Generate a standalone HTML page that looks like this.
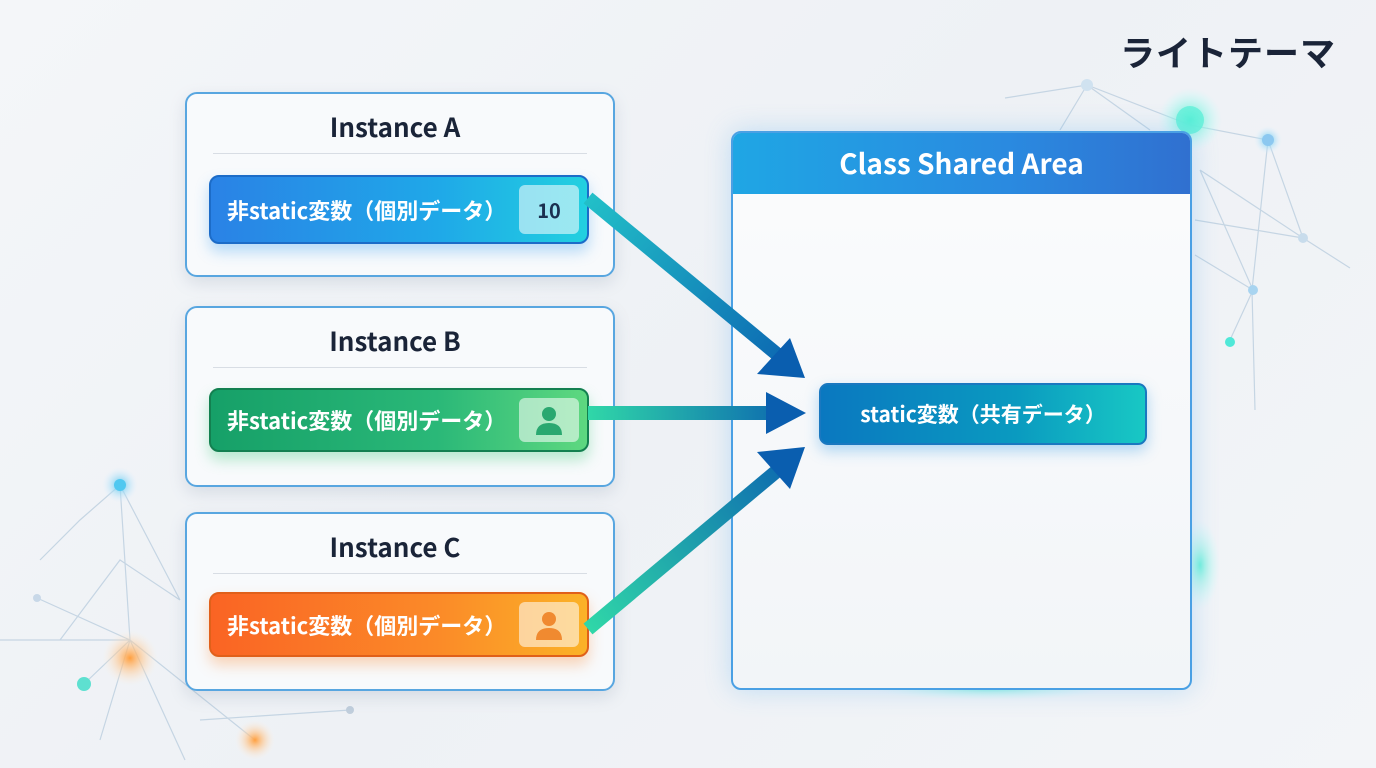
<!DOCTYPE html>
<html><head><meta charset="utf-8"><style>
*{margin:0;padding:0;box-sizing:border-box}
body{width:1376px;height:768px;overflow:hidden;position:relative;background:linear-gradient(135deg,#f4f6f9 0%,#eef1f5 50%,#f3f5f8 100%);font-family:"Liberation Sans","Noto Sans CJK JP",sans-serif}
.inst{position:absolute;left:185px;width:430px;border:2px solid #58a6e0;border-radius:12px;background:rgba(248,250,252,.95);box-shadow:0 6px 16px rgba(100,120,150,.18)}
.inst h2{position:absolute;left:-10px;right:0;text-align:center;font-size:26px;font-weight:bold;color:#1a2438;font-family:"Noto Sans CJK JP","Liberation Sans",sans-serif}
.inst .ln{position:absolute;left:26px;right:26px;height:1px;background:#d8dde4}
.pill{position:absolute;left:22px;width:380px;border-radius:10px;color:#fff;font-size:22px;font-weight:bold;padding-left:16px;font-family:"Noto Sans CJK JP",sans-serif;display:flex;align-items:center}
.badge{position:absolute;right:8px;top:8px;bottom:8px;width:60px;border-radius:6px;background:rgba(255,255,255,.55);display:flex;align-items:center;justify-content:center;color:#1a3050;font-size:20px}
</style></head><body>
<svg width="1376" height="768" style="position:absolute;left:0;top:0">
<defs>
<radialGradient id="gt"><stop offset="0" stop-color="#3ff0d0"/><stop offset=".4" stop-color="#7ff5e0" stop-opacity=".6"/><stop offset="1" stop-color="#bff" stop-opacity="0"/></radialGradient>
<radialGradient id="go"><stop offset="0" stop-color="#ffa040"/><stop offset=".4" stop-color="#ffc080" stop-opacity=".6"/><stop offset="1" stop-color="#fed" stop-opacity="0"/></radialGradient>
<radialGradient id="gb"><stop offset="0" stop-color="#40c0f0"/><stop offset=".4" stop-color="#90d8f5" stop-opacity=".6"/><stop offset="1" stop-color="#def" stop-opacity="0"/></radialGradient>
</defs>
<g stroke="#c5d5e3" stroke-width="1.2" fill="none">
<path d="M1005 98 L1087 85 L1190 125 M1087 85 L1060 130 M1087 85 L1150 130 M1190 125 L1268 140 L1303 238 L1268 140 L1252 290 L1255 410 M1200 170 L1303 238 L1350 268 M1200 170 L1253 290 L1230 340 M1195 220 L1303 238 M1195 255 L1253 290"/>
<path d="M120 485 L80 520 L40 560 M120 485 L130 640 L85 683 M120 485 L180 600 M37 598 L130 640 L255 740 M130 640 L185 760 M130 640 L100 740 M180 600 L120 560 L60 640 M0 640 L130 640 M200 720 L350 710"/>
</g>
<circle cx="1087" cy="85" r="6" fill="#d0e2f0"/><circle cx="1268" cy="140" r="14" fill="url(#gb)"/><circle cx="1268" cy="140" r="6" fill="#8cc8f0"/>
<circle cx="1303" cy="238" r="5" fill="#c8dcec"/><circle cx="1253" cy="290" r="5" fill="#a8d4f0"/><circle cx="1230" cy="342" r="5" fill="#50e8d8"/>
<circle cx="1190" cy="120" r="32" fill="url(#gt)"/><circle cx="1190" cy="120" r="14" fill="#60f0d8" opacity=".8"/>
<circle cx="120" cy="485" r="18" fill="url(#gb)"/><circle cx="120" cy="485" r="6" fill="#50c8f0"/>
<circle cx="130" cy="658" r="28" fill="url(#go)"/><circle cx="255" cy="740" r="20" fill="url(#go)"/>
<circle cx="84" cy="684" r="7" fill="#5ee0d0"/><circle cx="37" cy="598" r="4" fill="#c8d8e8"/><circle cx="350" cy="710" r="4" fill="#c0cedc"/>
<ellipse cx="1200" cy="565" rx="20" ry="45" fill="url(#gt)" opacity=".7"/>
<ellipse cx="990" cy="688" rx="120" ry="12" fill="url(#gt)" opacity=".6"/>
</svg>

<div style="position:absolute;left:1120px;top:26px;font-size:35px;font-weight:bold;color:#1a2438;font-family:'Noto Sans CJK JP',sans-serif;letter-spacing:1px">ライトテーマ</div>

<div class="inst" style="top:92px;height:185px"><h2 style="top:14px">Instance A</h2><div class="ln" style="top:59px"></div>
<div class="pill" style="top:81px;height:69px;background:linear-gradient(90deg,#2a82e6,#1fa8e8 60%,#22d0e0);border:2px solid #1c6cc8;box-shadow:0 8px 14px rgba(60,160,240,.35)">非static変数（個別データ）<div class="badge">10</div></div></div>

<div class="inst" style="top:306px;height:181px"><h2 style="top:14px">Instance B</h2><div class="ln" style="top:59px"></div>
<div class="pill" style="top:80px;height:64px;background:linear-gradient(90deg,#16a068,#2ab878 60%,#5ed880);border:2px solid #138050;box-shadow:0 8px 14px rgba(60,200,120,.35)">非static変数（個別データ）<div class="badge"><svg width="34" height="34" viewBox="0 0 34 34"><circle cx="17" cy="11" r="7" fill="#2aa870"/><path d="M4 32 Q4 20 17 20 Q30 20 30 32Z" fill="#2aa870"/></svg></div></div></div>

<div class="inst" style="top:512px;height:179px"><h2 style="top:14px">Instance C</h2><div class="ln" style="top:59px"></div>
<div class="pill" style="top:78px;height:65px;background:linear-gradient(90deg,#fa6424,#fb8a28 60%,#fbb228);border:2px solid #e0601a;box-shadow:0 8px 14px rgba(250,140,60,.35)">非static変数（個別データ）<div class="badge"><svg width="34" height="34" viewBox="0 0 34 34"><circle cx="17" cy="11" r="7" fill="#f08a30"/><path d="M4 32 Q4 20 17 20 Q30 20 30 32Z" fill="#f08a30"/></svg></div></div></div>

<div style="position:absolute;left:731px;top:131px;width:461px;height:559px;border:2px solid #4aa0e4;border-radius:10px;background:linear-gradient(180deg,#fbfcfd,#f2f5f8);box-shadow:0 0 26px rgba(80,170,240,.3);overflow:hidden">
<div style="height:61px;background:linear-gradient(90deg,#1fa6e4,#2a8ae0 60%,#3070d0);color:#fff;font-size:28px;font-weight:bold;text-align:center;line-height:60px;font-family:'Noto Sans CJK JP',sans-serif">Class Shared Area</div></div>
<div style="position:absolute;left:819px;top:383px;width:328px;height:62px;border-radius:9px;border:2px solid #1a78c0;background:linear-gradient(90deg,#0a78c0,#0a9ac0 60%,#18c8c4);box-shadow:0 6px 14px rgba(40,150,230,.35);color:#fff;font-size:21px;font-weight:bold;text-align:center;line-height:58px;font-family:'Noto Sans CJK JP',sans-serif">static変数（共有データ）</div>

<svg width="1376" height="768" style="position:absolute;left:0;top:0">
<defs>
<linearGradient id="a1" x1="587" y1="197" x2="805" y2="378" gradientUnits="userSpaceOnUse"><stop offset="0" stop-color="#22c0c8"/><stop offset="1" stop-color="#0a60b0"/></linearGradient>
<linearGradient id="a2" x1="587" y1="0" x2="805" y2="0" gradientUnits="userSpaceOnUse"><stop offset="0" stop-color="#30d8a8"/><stop offset="1" stop-color="#0a60b0"/></linearGradient>
<linearGradient id="a3" x1="587" y1="630" x2="805" y2="447" gradientUnits="userSpaceOnUse"><stop offset="0" stop-color="#30d8a8"/><stop offset="1" stop-color="#0a60b0"/></linearGradient>
</defs>
<line x1="588" y1="198" x2="778" y2="355" stroke="url(#a1)" stroke-width="14"/>
<polygon points="805,378 757,374 790,338" fill="#0a5eaf"/>
<line x1="588" y1="413" x2="772" y2="413" stroke="url(#a2)" stroke-width="14"/>
<polygon points="806,413 766,392 766,434" fill="#0a5eaf"/>
<line x1="588" y1="629" x2="778" y2="470" stroke="url(#a3)" stroke-width="14"/>
<polygon points="805,447 757,452 790,489" fill="#0a5eaf"/>
</svg>
</body></html>
